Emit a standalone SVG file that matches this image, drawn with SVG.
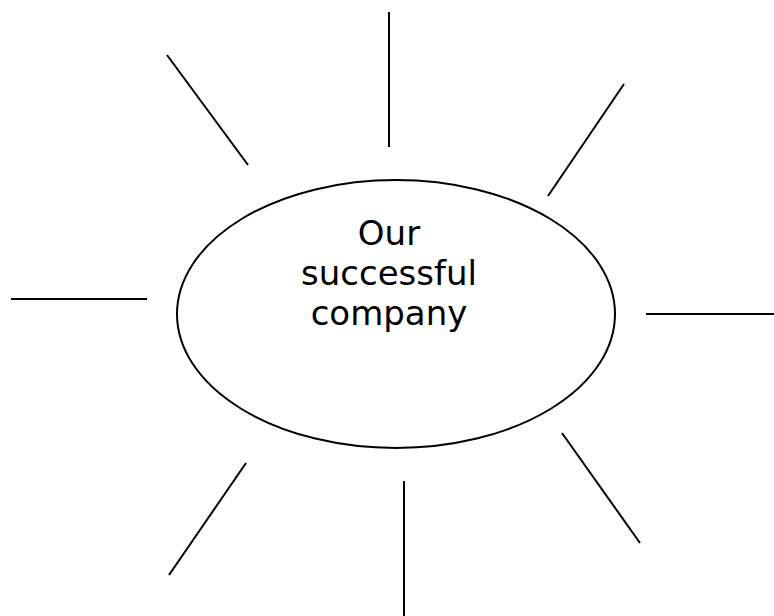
<svg xmlns="http://www.w3.org/2000/svg" width="774" height="616" viewBox="0 0 774 616">
<style>
.ray{stroke:#000;stroke-width:2;fill:none}
.node{fill:#fff;stroke:#000;stroke-width:2}
.lbl{font-family:"Comic Sans MS","DejaVu Sans",sans-serif;font-size:34px;fill:#000;text-anchor:middle}
</style>
<rect width="774" height="616" fill="#fff"/>
<g id="rays">
<line class="ray" x1="389" y1="12" x2="389" y2="147"/>
<line class="ray" x1="167" y1="55" x2="248" y2="165"/>
<line class="ray" x1="624" y1="84" x2="548" y2="196"/>
<line class="ray" x1="11" y1="299" x2="147" y2="299"/>
<line class="ray" x1="646" y1="314" x2="774" y2="314"/>
<line class="ray" x1="246" y1="463" x2="169" y2="575"/>
<line class="ray" x1="404" y1="481" x2="404" y2="616"/>
<line class="ray" x1="562" y1="433" x2="640" y2="543"/>
</g>
<g id="center">
<ellipse class="node" cx="396" cy="314" rx="219" ry="134"/>
<text class="lbl" x="389" y="245">Our</text>
<text class="lbl" x="389" y="285">successful</text>
<text class="lbl" x="389" y="325">company</text>
</g>
</svg>
